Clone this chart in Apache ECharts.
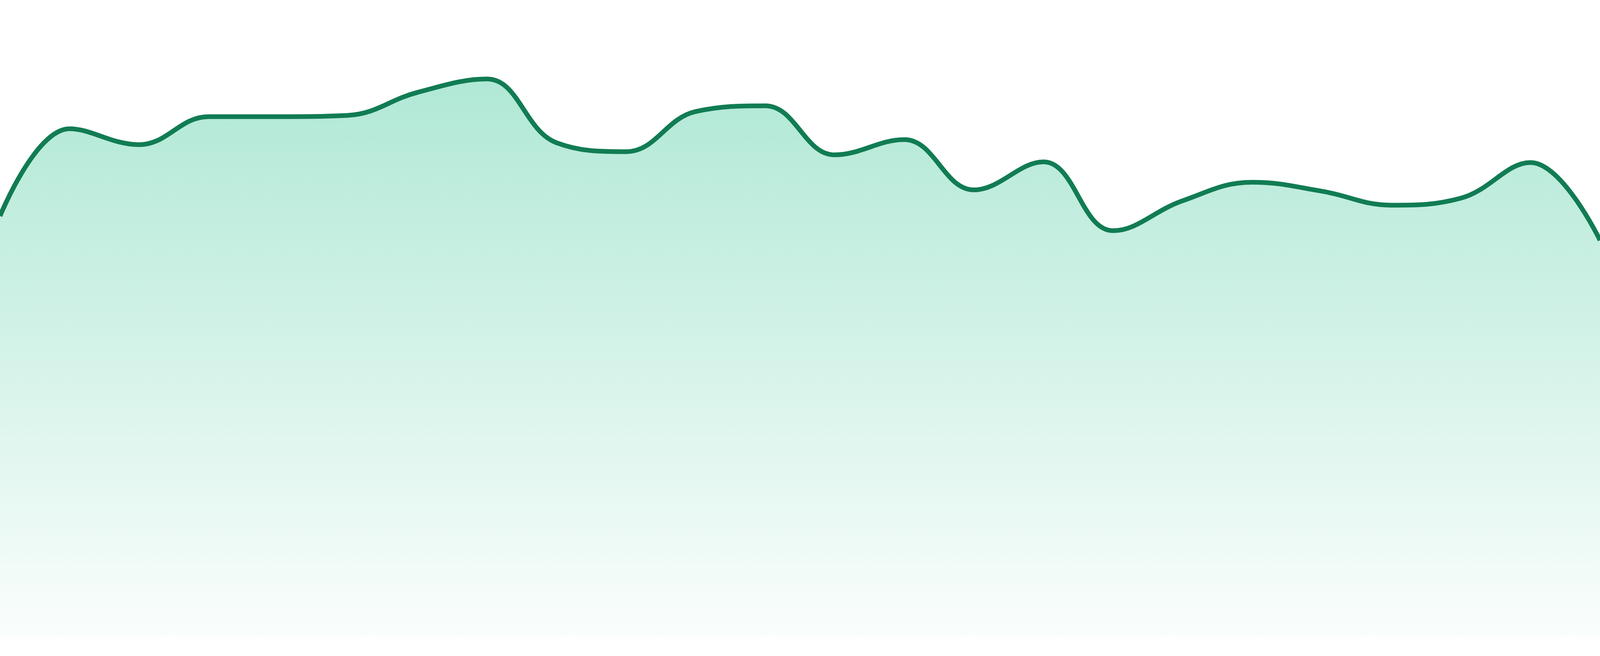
<!DOCTYPE html>
<html>
<head>
<meta charset="utf-8">
<style>
html,body{margin:0;padding:0;background:#ffffff;overflow:hidden;}
#chart{width:100vw;height:100vh;}
</style>
<script src="https://cdn.jsdelivr.net/npm/echarts@6/dist/echarts.min.js"></script>
</head>
<body>
<div id="chart"></div>
<script>
const categories = ['00:00','01:00','02:00','03:00','04:00','05:00','06:00','07:00','08:00','09:00','10:00','11:00','12:00','13:00','14:00','15:00','16:00','17:00','18:00','19:00','20:00','21:00','22:00','23:00'];
const values = [66.1, 79.8, 77.3, 81.7, 81.7, 81.9, 85.5, 87.6, 77.6, 76.2, 82.5, 83.4, 75.7, 78.1, 70.2, 74.6, 63.8, 68.5, 71.4, 70.0, 67.8, 68.9, 74.5, 62.3];

const el = document.getElementById('chart');
const chart = echarts.init(el, null, {renderer: 'canvas'});
const H = el.clientHeight || 1680;
chart.setOption({
  animation: false,
  backgroundColor: '#ffffff',
  grid: {left: 0, right: 0, top: 0, bottom: Math.round(H * 48 / 1680), containLabel: false},
  xAxis: {type: 'category', data: categories, boundaryGap: false, show: false},
  yAxis: {type: 'value', min: 0, max: 100, show: false},
  series: [{
    type: 'line',
    data: values,
    smooth: 0.4,
    symbol: 'none',
    lineStyle: {color: '#117c53', width: 12},
    areaStyle: {
      opacity: 1,
      color: new echarts.graphic.LinearGradient(0, 0, 0, 1, [
        {offset: 0, color: 'rgba(16,185,129,0.33)'},
        {offset: 1, color: 'rgba(16,185,129,0.02)'}
      ])
    }
  }]
});
window.addEventListener('resize', function () { chart.resize(); });
</script>
</body>
</html>
